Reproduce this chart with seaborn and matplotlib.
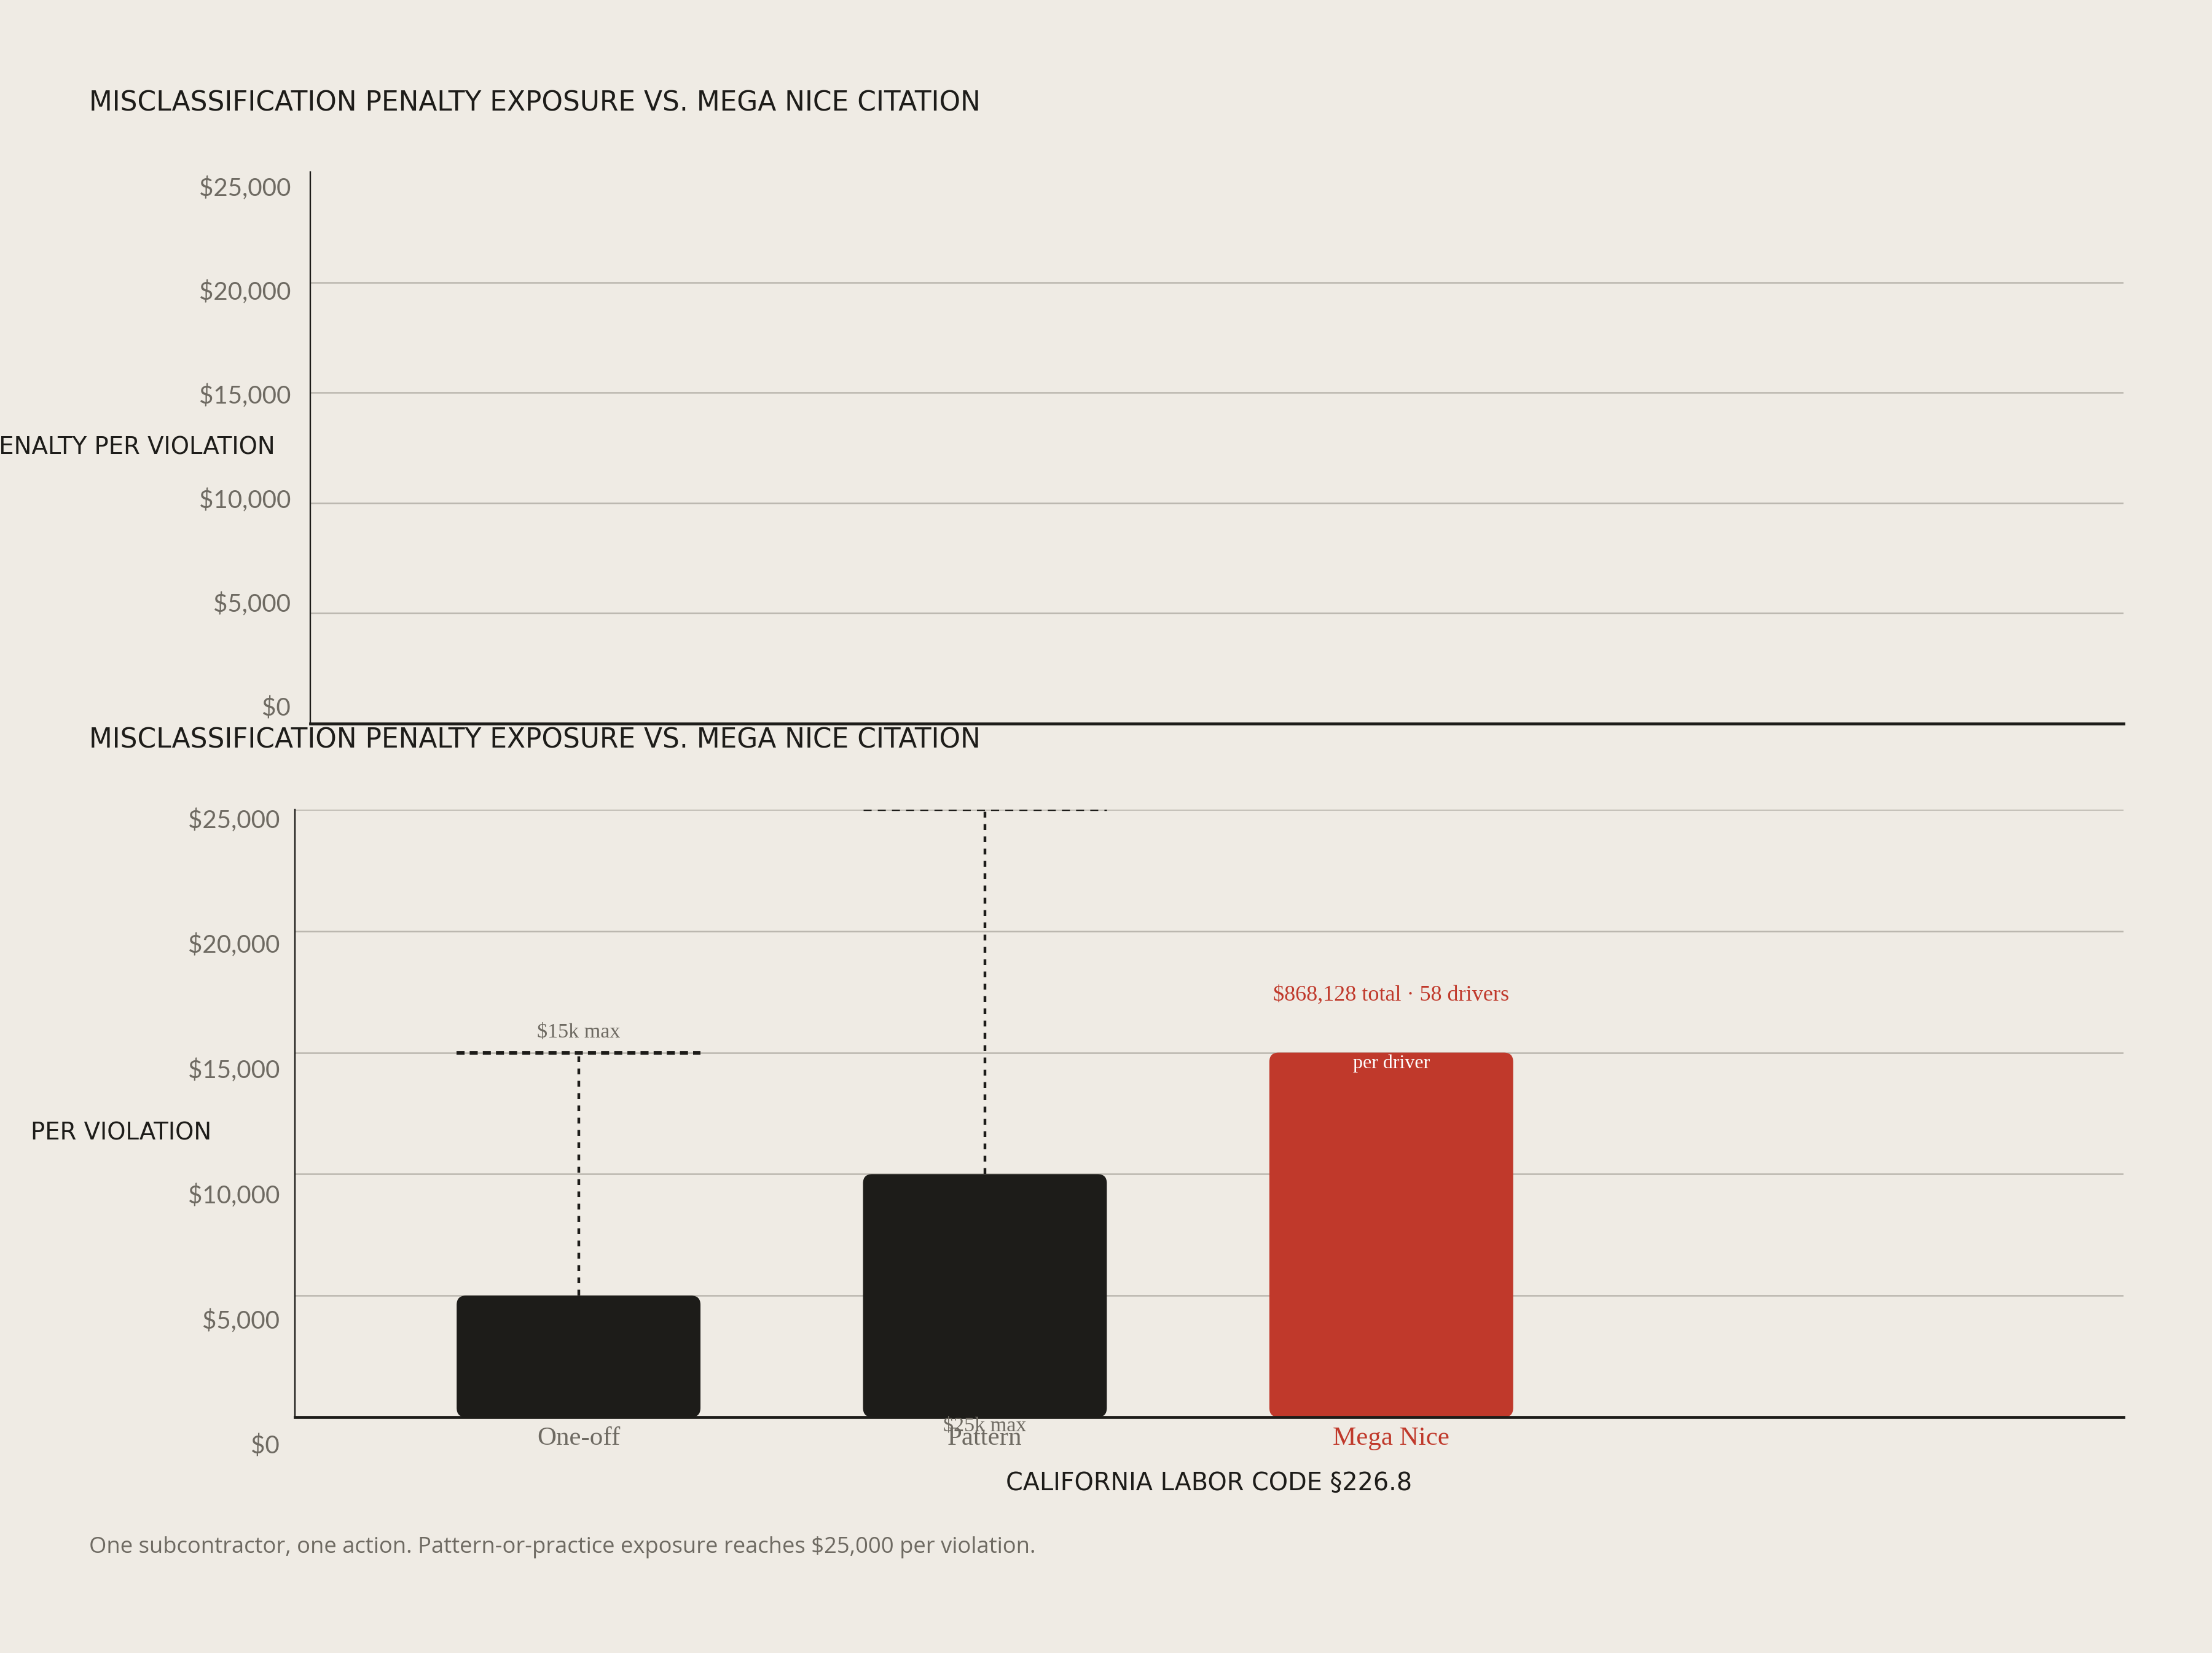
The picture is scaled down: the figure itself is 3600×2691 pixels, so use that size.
import matplotlib
matplotlib.use("Agg")
import matplotlib.pyplot as plt
from matplotlib.patches import FancyBboxPatch
import seaborn as sns
import pandas as pd

# ---------------- data ----------------
categories = ["One-off", "Pattern", "Mega Nice"]
penalty_values = [5000, 10000, 15000]
max_values = [15000, 25000, None]
max_labels = ["$15k max", "$25k max", None]
mega_total_label = "$868,128 total · 58 drivers"
mega_inner_label = "per driver"
ytick_values = [0, 5000, 10000, 15000, 20000, 25000]
ytick_labels = ["$0", "$5,000", "$10,000", "$15,000", "$20,000", "$25,000"]
title_text = "MISCLASSIFICATION PENALTY EXPOSURE VS. MEGA NICE CITATION"
ylabel_top = "PENALTY PER VIOLATION"
ylabel_bottom = "PER VIOLATION"
xlabel_text = "CALIFORNIA LABOR CODE §226.8"
footer_text = "One subcontractor, one action. Pattern-or-practice exposure reaches $25,000 per violation."

# ---------------- style ----------------
BG = "#EFEBE4"
INK = "#1D1C19"
RED = "#C0392B"
GRID = "#BAB6AE"
MUTED = "#6E6A62"
SANS = ["Lato", "DejaVu Sans"]
WIDE = ["DejaVu Sans"]
BODY = ["Open Sans", "DejaVu Sans"]
SERIF = ["Liberation Serif", "DejaVu Serif"]

sns.set_theme(style="white")
plt.rcParams["font.family"] = SANS
plt.rcParams["lines.scale_dashes"] = False

W, H, DPI = 3600, 2691, 200
fig = plt.figure(figsize=(W / DPI, H / DPI), dpi=DPI, facecolor=BG)


def fx(px):
    return px / W


def fy(px):
    return 1 - px / H


# ---------------- top (empty) panel ----------------
t_left, t_right, t_top, t_bot = 505, 3456, 280, 1178
ax_top = fig.add_axes([fx(t_left), fy(t_bot), fx(t_right - t_left), (t_bot - t_top) / H])
ax_top.set_facecolor(BG)
ax_top.set_ylim(0, 25000)
ax_top.set_xlim(0, 1)
ax_top.set_yticks([5000, 10000, 15000, 20000])
ax_top.set_xticks([])
ax_top.tick_params(axis="y", length=0, labelleft=False)
ax_top.grid(axis="y", color=GRID, linewidth=0.9)
ax_top.set_axisbelow(True)
for s in ["top", "right"]:
    ax_top.spines[s].set_visible(False)
ax_top.spines["left"].set_color(INK)
ax_top.spines["left"].set_linewidth(0.85)
ax_top.spines["bottom"].set_color(INK)
ax_top.spines["bottom"].set_linewidth(1.7)

# tick labels for top panel (slightly offset scale as in the reference)
lab_top = fig.add_axes([fx(t_left), fy(1150), 0.001, (1150 - 303) / H])
lab_top.set_ylim(0, 25000)
lab_top.set_yticks(ytick_values)
lab_top.set_yticklabels(ytick_labels)
lab_top.tick_params(axis="y", length=0, pad=11.5, labelsize=14.5, labelcolor=MUTED)
lab_top.set_xticks([])
lab_top.patch.set_visible(False)
for s in lab_top.spines.values():
    s.set_visible(False)

# ---------------- bottom panel ----------------
b_left, b_right, b_top, b_bot = 480, 3456, 1318, 2307
ax = fig.add_axes([fx(b_left), fy(b_bot), fx(b_right - b_left), (b_bot - b_top) / H])
ax.set_facecolor(BG)

df = pd.DataFrame({"category": categories, "value": penalty_values})
bar_colors = [INK, INK, RED]
sns.barplot(data=df, x="category", y="value", hue="category", palette=bar_colors,
            order=categories, hue_order=categories, width=0.6, legend=False,
            ax=ax, saturation=1)

x_lo, x_hi = -0.698, 3.802
ax.set_xlim(x_lo, x_hi)
ax.set_ylim(0, 25000)

# replace rectangles with rounded bars
px_w = b_right - b_left
px_h = b_bot - b_top
x_per_px = (x_hi - x_lo) / px_w
y_per_px = 25000 / px_h
aspect = y_per_px / x_per_px
radius_px = 15
rounding = radius_px * x_per_px
for patch in list(ax.patches):
    x0, y0 = patch.get_x(), patch.get_y()
    w, h = patch.get_width(), patch.get_height()
    fc = patch.get_facecolor()
    patch.remove()
    rb = FancyBboxPatch((x0, y0), w, h,
                        boxstyle=f"round,pad=0,rounding_size={rounding}",
                        mutation_aspect=aspect, facecolor=fc, edgecolor="none",
                        zorder=2)
    ax.add_patch(rb)

ax.set_yticks([0, 5000, 10000, 15000, 20000, 25000])
ax.tick_params(axis="y", length=0, labelleft=False)
ax.grid(axis="y", color=GRID, linewidth=0.9)
ax.set_axisbelow(True)
for s in ["top", "right"]:
    ax.spines[s].set_visible(False)
ax.spines["left"].set_color(INK)
ax.spines["left"].set_linewidth(0.85)
ax.spines["bottom"].set_color(INK)
ax.spines["bottom"].set_linewidth(1.7)
ax.spines["bottom"].set_zorder(3)
ax.set_xlabel("")
ax.set_ylabel("")

# x tick labels
ax.tick_params(axis="x", length=0, pad=5.5)
ax.set_xticks(range(len(categories)))
ax.set_xticklabels(categories)
for lbl, c in zip(ax.get_xticklabels(), [MUTED, MUTED, RED]):
    lbl.set_fontfamily(SERIF)
    lbl.set_fontsize(15.5)
    lbl.set_color(c)

# whiskers to statutory maxima
cap_styles = [dict(lw=2.1, ls=(0, (4.7, 3.0))), dict(lw=1.25, ls=(0, (4.7, 3.6)))]
for i, (v, mx) in enumerate(zip(penalty_values, max_values)):
    if mx is None:
        continue
    ax.plot([i, i], [v, mx], color=INK, lw=1.6, ls=(0, (3.4, 3.8)), zorder=4)
    ax.plot([i - 0.3, i + 0.3], [mx, mx], color=INK, zorder=4,
            lw=cap_styles[i]["lw"], ls=cap_styles[i]["ls"])

# max labels
ax.annotate(max_labels[0], (0, max_values[0]), xytext=(0, 12), textcoords="offset points",
            ha="center", va="center", fontsize=12.3, color=MUTED, family=SERIF, zorder=5)
ax.annotate(max_labels[1], (1, 0), xytext=(0, -5), textcoords="offset points",
            ha="center", va="center", fontsize=12.3, color=MUTED, family=SERIF, zorder=5,
            annotation_clip=False)

# Mega Nice annotations
ax.annotate(mega_total_label, (2, penalty_values[2]), xytext=(0, 33.5), textcoords="offset points",
            ha="center", va="center", fontsize=13, color=RED, family=SERIF, zorder=5)
ax.annotate(mega_inner_label, (2, penalty_values[2]), xytext=(0, -6.5), textcoords="offset points",
            ha="center", va="center", fontsize=11.5, color="white", family=SERIF, zorder=5)

# tick labels for bottom panel
lab_bot = fig.add_axes([fx(b_left), fy(2351), 0.001, (2351 - 1332) / H])
lab_bot.set_ylim(0, 25000)
lab_bot.set_yticks(ytick_values)
lab_bot.set_yticklabels(ytick_labels)
lab_bot.tick_params(axis="y", length=0, pad=9, labelsize=14.5, labelcolor=MUTED)
lab_bot.set_xticks([])
lab_bot.patch.set_visible(False)
for s in lab_bot.spines.values():
    s.set_visible(False)

# ---------------- figure texts ----------------
fig.text(fx(145), fy(168), title_text, ha="left", va="center", fontsize=15.8, color=INK, family=WIDE)
fig.text(fx(145), fy(1205), title_text, ha="left", va="center", fontsize=15.8, color=INK, family=WIDE)
fig.text(fx(448), fy(728), ylabel_top, ha="right", va="center", fontsize=13.9, color=INK, family=WIDE)
fig.text(fx(344), fy(1844), ylabel_bottom, ha="right", va="center", fontsize=13.9, color=INK, family=WIDE)
fig.text(fx(1968), fy(2415), xlabel_text, ha="center", va="center", fontsize=14.3, color=INK, family=WIDE)
fig.text(fx(145), fy(2519), footer_text, ha="left", va="center", fontsize=13.1, color=MUTED, family=BODY)

fig.savefig("out.png", dpi=DPI, facecolor=BG)
